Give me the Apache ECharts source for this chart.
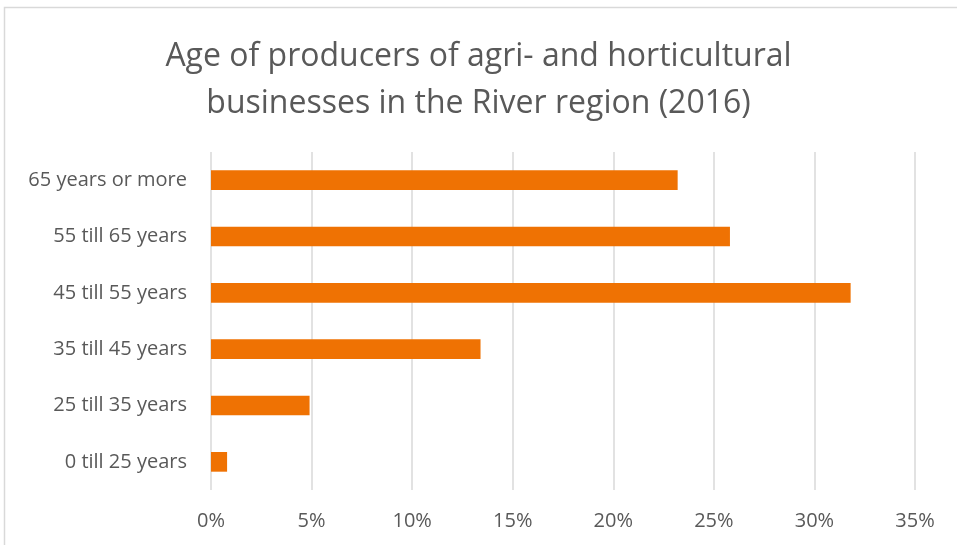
<!DOCTYPE html>
<html><head><meta charset="utf-8">
<script src="https://cdn.jsdelivr.net/npm/echarts@6/dist/echarts.min.js"></script>
<style>html,body{margin:0;padding:0;background:#fff}#c{width:957px;height:545px}</style>
</head><body><div id="c"></div>
<script>
const categories = ['0 till 25 years','25 till 35 years','35 till 45 years','45 till 55 years','55 till 65 years','65 years or more'];
const shares = [0.8, 4.9, 13.4, 31.8, 25.8, 23.2];
const xTicks = [0, 5, 10, 15, 20, 25, 30, 35];
const titleText = 'Age of producers of agri- and horticultural\nbusinesses in the River region (2016)';

const chart = echarts.init(document.getElementById('c'), null, {renderer:'canvas'});
chart.setOption({
  animation:false,
  backgroundColor:'#fff',
  textStyle:{fontFamily:'Open Sans'},
  graphic:[{type:'rect',shape:{x:4.5,y:7.5,width:1200,height:1200},style:{fill:'none',stroke:'#d9d9d9',lineWidth:1.5},silent:true}],
  title:{text:titleText,left:'center',top:28,textStyle:{fontFamily:'Open Sans',fontWeight:'normal',fontSize:32,color:'#595959',lineHeight:47}},
  grid:{left:211,right:957-915,top:152,bottom:545-490},
  xAxis:{type:'value',min:xTicks[0],max:xTicks[xTicks.length-1],interval:5,
    axisLine:{show:false},axisTick:{show:false},
    splitLine:{lineStyle:{color:'#d9d9d9',width:1.5}},
    axisLabel:{formatter:v=>v+'%',color:'#595959',fontSize:20,margin:21}},
  yAxis:{type:'category',data:categories,
    axisLine:{show:false},axisTick:{show:false},
    axisLabel:{color:'#595959',fontSize:20,margin:24}},
  series:[{type:'bar',data:shares,barWidth:'35%',itemStyle:{color:'#EF7203'}}]
});
</script></body></html>
